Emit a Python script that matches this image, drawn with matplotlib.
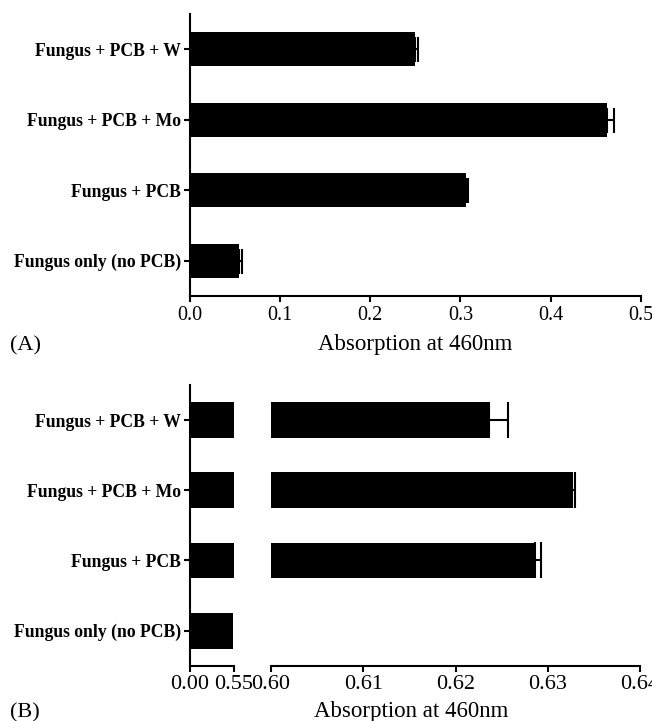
import matplotlib
matplotlib.use("Agg")
import matplotlib.pyplot as plt
import numpy as np

plt.rcParams['font.family'] = ['Liberation Serif', 'DejaVu Serif']

groups = ["Fungus only (no PCB)", "Fungus + PCB", "Fungus + PCB + Mo", "Fungus + PCB + W"]

# panel A
abs_a = [0.055, 0.306, 0.462, 0.250]
err_a = [0.003, 0.002, 0.008, 0.003]

# panel B (broken axis)
abs_b = [0.5455, 0.6286, 0.6326, 0.6236]
err_b = [0.0, 0.0007, 0.0003, 0.0021]
ticks_b_left = [0.00, 0.55]
ticks_b_right = [0.60, 0.61, 0.62, 0.63, 0.64]

fig = plt.figure(figsize=(6.52, 7.21), dpi=100)
W, H = 652.0, 721.0


def style(ax, tick_size):
    for s in ['top', 'right']:
        ax.spines[s].set_visible(False)
    for s in ['left', 'bottom']:
        ax.spines[s].set_linewidth(1.5)
    ax.tick_params(axis='both', direction='out', width=1.5, length=4)
    ax.tick_params(axis='x', labelsize=tick_size, pad=3)
    ax.tick_params(axis='y', pad=2)


y = np.arange(len(groups))

# ---- (A) ----
axA = fig.add_axes([189.5 / W, 1 - 296 / H, 451.5 / W, 282 / H])
axA.barh(y, abs_a, height=0.48, color='black')
axA.errorbar(abs_a, y, xerr=[np.zeros(len(y)), err_a], fmt='none', ecolor='black',
             elinewidth=1.5, capsize=9, capthick=1.5)
axA.set_xlim(0, 0.5)
axA.set_ylim(-0.5, 3.5)
axA.set_xticks([0.0, 0.1, 0.2, 0.3, 0.4, 0.5])
axA.set_xticklabels(['0.0', '0.1', '0.2', '0.3', '0.4', '0.5'])
axA.set_yticks(y)
axA.set_yticklabels(groups, fontsize=12.7, fontweight='bold')
style(axA, 14.5)

fig.text(10 / W, 1 - 350 / H, "(A)", fontsize=16, va='baseline', ha='left')
fig.text(415 / W, 1 - 350 / H, "Absorption at 460nm", fontsize=16.5, va='baseline', ha='center')

# ---- (B) left segment ----
bottom_b = 1 - 665.7 / H
height_b = 280.7 / H
axBl = fig.add_axes([189.5 / W, bottom_b, 44 / W, height_b])
axBl.barh(y, abs_b, height=0.51, color='black')
axBl.set_xlim(0, 0.55)
axBl.set_ylim(-0.5, 3.5)
axBl.set_xticks(ticks_b_left)
axBl.set_xticklabels(['0.00', '0.55'])
axBl.set_yticks(y)
axBl.set_yticklabels(groups, fontsize=12.7, fontweight='bold')
style(axBl, 16)

# ---- (B) right segment ----
axBr = fig.add_axes([271 / W, bottom_b, 369 / W, height_b])
axBr.barh(y, abs_b, height=0.51, color='black')
axBr.errorbar(abs_b[1:], y[1:], xerr=[np.zeros(3), err_b[1:]], fmt='none', ecolor='black',
              elinewidth=1.5, capsize=13, capthick=1.5)
axBr.set_xlim(0.60, 0.64)
axBr.set_ylim(-0.5, 3.5)
axBr.set_xticks(ticks_b_right)
axBr.set_xticklabels(['%.2f' % t for t in ticks_b_right])
axBr.set_yticks([])
style(axBr, 16)
axBr.spines['left'].set_visible(False)

fig.text(10 / W, 1 - 717 / H, "(B)", fontsize=16, va='baseline', ha='left')
fig.text(411 / W, 1 - 717 / H, "Absorption at 460nm", fontsize=16.5, va='baseline', ha='center')

fig.savefig("out.png", dpi=100)
